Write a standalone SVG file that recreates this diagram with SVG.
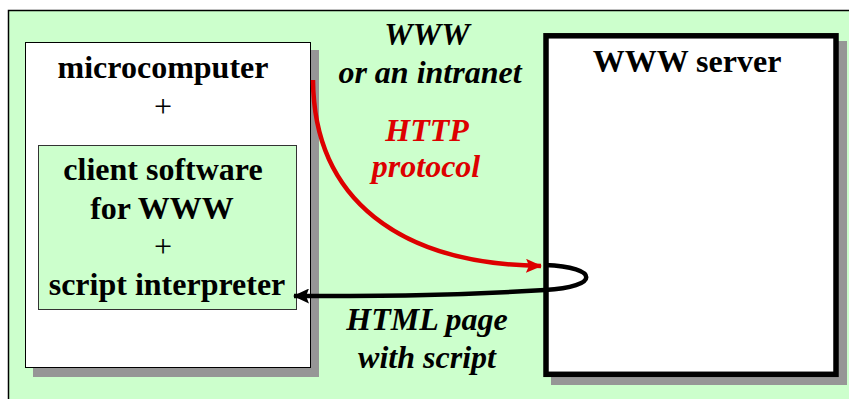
<svg xmlns="http://www.w3.org/2000/svg" width="849" height="399" viewBox="0 0 849 399">
  <style>
    .t { font-family: "Liberation Serif", "Times New Roman", serif; font-size: 32px; font-weight: bold; text-anchor: middle; fill: #000; }
    .it { font-style: italic; }
    .red { fill: #DD0000; }
    .plus { font-weight: normal; }
    .shadow { fill: #969696; }
  </style>
  <defs>
    <marker id="headRed" viewBox="0 0 16 14" refX="15" refY="7" markerWidth="16" markerHeight="14" markerUnits="userSpaceOnUse" orient="auto">
      <path d="M0,0 L16,7 L0,14 L3,7 Z" fill="#DD0000"/>
    </marker>
    <marker id="headBlack" viewBox="0 0 16 15" refX="15" refY="7.5" markerWidth="16" markerHeight="15" markerUnits="userSpaceOnUse" orient="auto">
      <path d="M0,0 L16,7.5 L0,15 L3,7.5 Z" fill="#000"/>
    </marker>
  </defs>

  <!-- page background and green panel -->
  <rect x="0" y="0" width="849" height="399" fill="#fff"/>
  <rect x="8.5" y="10.5" width="860" height="400" fill="#CCFFCC" stroke="#000" stroke-width="1.5"/>

  <!-- client machine -->
  <g id="client">
    <rect class="shadow" x="33" y="50" width="286" height="327"/>
    <rect x="25.5" y="42.5" width="285" height="325" fill="#fff" stroke="#000" stroke-width="1"/>
    <text class="t" x="163" y="78">microcomputer</text>
    <text class="t plus" x="163" y="117">+</text>
  </g>

  <g id="software">
    <rect x="38.5" y="145.5" width="258" height="164" fill="#CCFFCC" stroke="#333" stroke-width="1"/>
    <text class="t" x="163" y="180">client software</text>
    <text class="t" x="162" y="219">for WWW</text>
    <text class="t plus" x="163" y="257">+</text>
    <text class="t" x="167" y="295">script interpreter</text>
  </g>

  <!-- server -->
  <g id="server">
    <rect class="shadow" x="551" y="41" width="296" height="344"/>
    <rect x="546" y="35.8" width="290" height="338.5" fill="#fff" stroke="#000" stroke-width="5.5"/>
    <text class="t" x="687" y="72">WWW server</text>
  </g>

  <!-- network labels -->
  <g id="network">
    <text class="t it" x="427" y="45">WWW</text>
    <text class="t it" x="430" y="83">or an intranet</text>
  </g>

  <!-- connectors -->
  <g id="connectors" fill="none">
    <path d="M313,80 C314,200 400,264 541,266" stroke="#DD0000" stroke-width="4.5" marker-end="url(#headRed)"/>
    <path d="M545,265 C600,267 600,287 545,290 C450,296 380,296 294,296" stroke="#000" stroke-width="4.5" marker-end="url(#headBlack)"/>
  </g>

  <g id="request-label">
    <text class="t it red" x="427" y="141">HTTP</text>
    <text class="t it red" x="426" y="177">protocol</text>
  </g>

  <g id="response-label">
    <text class="t it" x="427" y="330">HTML page</text>
    <text class="t it" x="427" y="368">with script</text>
  </g>
</svg>
